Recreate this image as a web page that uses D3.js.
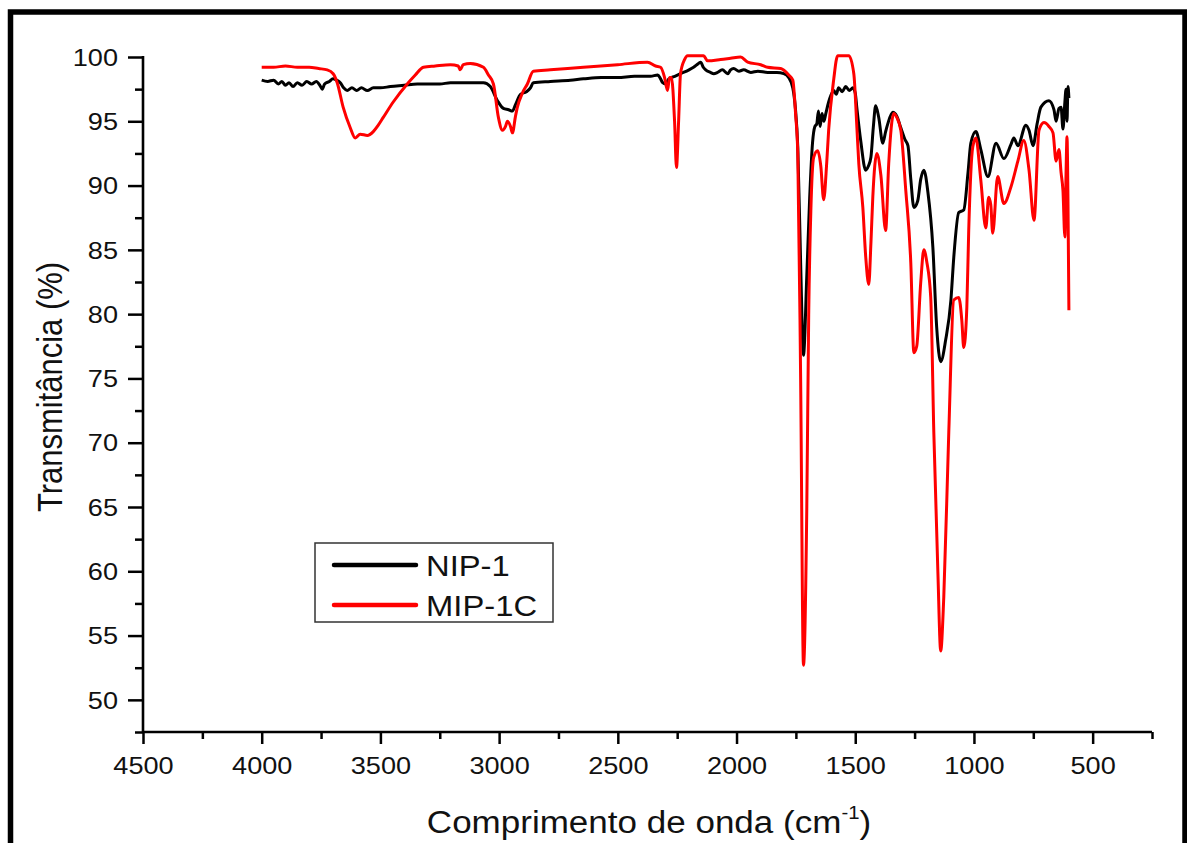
<!DOCTYPE html>
<html>
<head>
<meta charset="utf-8">
<script src="https://cdn.jsdelivr.net/npm/d3@7"></script>
<style>
  html, body { margin: 0; padding: 0; background: #fff; }
  svg { display: block; }
  text { font-family: "Liberation Sans", Arial, sans-serif; fill: #111; }
</style>
</head>
<body>
<svg id="chart" width="1187" height="843"></svg>
<script>
// FTIR spectra: wavenumber (cm-1) and transmittance (%)
const nipWavenumber = [4000,3975,3950,3930,3915,3900,3885,3868,3850,3830,3810,3790,3770,3755,3745,3735,3715,3700,3685,3669,3655,3640,3620,3600,3580,3555,3530,3500,3458,3400,3345,3300,3250,3205,3150,3100,3066,3037,3007,2982,2960,2944,2931,2910,2885,2868,2856,2784,2700,2645,2570,2501,2430,2362,2332,2320,2311,2299,2285,2260,2236,2200,2181,2160,2151,2140,2130,2110,2096,2080,2060,2037,2025,2012,1990,1970,1940,1910,1869,1830,1801,1780,1763,1752,1742,1730,1718,1704,1692,1680,1670,1662,1655,1648,1640,1632,1624,1612,1603,1590,1580,1570,1555,1540,1525,1510,1500,1493,1477,1456,1445,1434,1424,1414,1401,1384,1372,1363,1342,1325,1308,1291,1278,1266,1253,1237,1224,1211,1194,1173,1157,1140,1119,1097,1085,1064,1043,1025,1013,992,971,941,907,874,844,832,815,781,768,751,734,718,684,663,654,642,633,625,617,612,608,604,600];
const nipTransmittance = [98.2,98.1,98.2,97.9,98.1,97.8,98.0,97.7,98.0,97.8,98.1,97.9,98.1,97.8,97.5,97.9,98.1,98.3,98.2,98.0,97.6,97.4,97.6,97.4,97.6,97.4,97.6,97.6,97.7,97.8,97.9,97.9,97.9,98.0,98.0,98.0,98.0,97.7,96.6,96.0,95.9,95.8,96.3,97.1,97.3,97.6,98.0,98.1,98.2,98.3,98.4,98.4,98.5,98.5,98.6,98.3,98.0,97.9,98.3,98.5,98.7,99.0,99.2,99.5,99.6,99.2,99.0,98.8,98.7,98.8,99.0,98.7,99.0,99.1,98.9,99.0,98.8,98.9,98.8,98.8,98.7,98.4,97.6,96.0,93.0,84.0,76.8,83.0,89.0,93.3,94.6,94.8,95.8,94.6,95.6,95.0,95.6,96.5,97.0,97.4,97.1,97.6,97.3,97.7,97.4,97.6,97.2,96.0,93.5,91.2,91.5,92.2,94.5,96.2,95.3,93.3,94.2,94.8,95.7,95.4,94.5,93.6,93.1,90.5,88.3,88.8,90.5,91.2,89.5,85.2,79.0,76.3,78.0,81.1,84.4,87.9,88.1,91.0,93.3,94.2,92.8,90.7,93.3,92.1,93.2,93.7,93.1,94.7,94.3,93.1,94.8,96.1,96.6,95.9,95.0,96.0,96.1,94.4,96.5,97.5,95.0,97.7,96.8];

const mipWavenumber = [4000,3950,3900,3850,3800,3760,3724,3699,3682,3657,3627,3606,3585,3555,3530,3509,3488,3446,3387,3353,3319,3269,3205,3172,3164,3151,3121,3066,3045,3024,3003,2986,2973,2965,2952,2944,2931,2923,2902,2881,2856,2784,2645,2501,2375,2341,2320,2303,2291,2282,2274,2261,2253,2244,2236,2219,2206,2139,2122,2067,2025,1983,1953,1898,1869,1814,1780,1763,1751,1742,1730,1718,1704,1696,1687,1675,1658,1645,1633,1620,1612,1591,1574,1527,1506,1493,1485,1468,1456,1443,1434,1426,1409,1392,1372,1359,1338,1325,1308,1287,1266,1253,1241,1224,1211,1198,1182,1169,1152,1140,1127,1106,1085,1064,1051,1043,1030,1022,1005,992,971,950,938,929,921,900,874,844,815,790,768,747,726,705,684,667,654,642,633,625,617,612,608,604,600];
const mipTransmittance = [99.2,99.2,99.3,99.2,99.2,99.1,99.0,98.7,98.0,96.1,94.5,93.7,94.0,93.9,94.2,94.7,95.3,96.5,97.9,98.6,99.2,99.3,99.4,99.3,99.0,99.4,99.5,99.2,98.6,97.9,95.3,94.3,94.6,95.0,94.6,94.1,95.4,96.1,97.2,97.9,98.9,99.0,99.2,99.4,99.6,99.3,99.2,98.4,97.4,98.4,98.4,95.0,91.4,95.0,98.7,99.8,100.1,100.1,99.7,99.8,99.9,100.0,99.6,99.4,99.2,99.1,98.6,98.2,95.5,92.5,75.0,52.7,65.0,80.0,88.0,92.2,92.7,91.5,88.9,91.8,94.3,98.2,100.1,100.1,98.7,94.5,91.7,88.3,84.5,82.3,85.5,89.1,92.5,90.8,86.5,91.7,95.6,95.3,94.3,89.6,84.0,77.0,77.5,82.5,85.0,84.0,81.3,70.8,60.0,53.8,58.0,70.8,81.1,81.3,79.5,77.4,80.5,86.5,93.0,93.7,90.4,86.7,89.1,88.5,86.3,90.7,88.6,89.9,91.9,93.5,91.2,87.3,94.3,94.9,94.6,94.1,91.9,92.8,91.0,89.6,86.0,91.0,93.8,89.0,80.3];

const seriesNames = ["NIP-1", "MIP-1C"];
const seriesColors = ["#000000", "#ff0000"];

const xMajorTicks = [4500,4000,3500,3000,2500,2000,1500,1000,500];
const xMinorTicks = [4250,3750,3250,2750,2250,1750,1250,750,250];
const yMajorTicks = [50,55,60,65,70,75,80,85,90,95,100];
const yMinorTicks = [47.5,52.5,57.5,62.5,67.5,72.5,77.5,82.5,87.5,92.5,97.5];

const svg = d3.select("#chart");
const plot = { left: 143, right: 1152, top: 57, bottom: 732 };
const stretch = 1.13; // glyphs are drawn slightly wide

// page frame
svg.append("rect")
  .attr("x", 10.5).attr("y", 12)
  .attr("width", 1185 - 10.5).attr("height", 950)
  .attr("fill", "none").attr("stroke", "#000").attr("stroke-width", 5.5);

const x = d3.scaleLinear().domain([4500, 250]).range([plot.left, plot.right]);
const y = d3.scaleLinear().domain([47.5, 100]).range([plot.bottom, plot.top]);

// minor ticks
const xMinor = d3.axisBottom(x).tickValues(xMinorTicks).tickSize(7).tickSizeOuter(0).tickFormat("");
const yMinor = d3.axisLeft(y).tickValues(yMinorTicks).tickSize(8).tickSizeOuter(0).tickFormat("");
svg.append("g").attr("transform", `translate(0,${plot.bottom})`).call(xMinor).call(g => g.select(".domain").remove());
svg.append("g").attr("transform", `translate(${plot.left},0)`).call(yMinor).call(g => g.select(".domain").remove());

// major ticks with labels
const xAxis = d3.axisBottom(x).tickValues(xMajorTicks).tickSize(12).tickSizeOuter(0).tickFormat(d3.format("d"));
const yAxis = d3.axisLeft(y).tickValues(yMajorTicks).tickSize(15).tickSizeOuter(0).tickFormat(d3.format("d"));

const gx = svg.append("g").attr("transform", `translate(0,${plot.bottom})`).call(xAxis);
gx.select(".domain").remove();
gx.selectAll("text")
  .attr("x", 0).attr("y", 25).attr("dy", "0.71em")
  .attr("transform", `scale(${stretch},1)`)
  .style("font-size", "24px");

const gy = svg.append("g").attr("transform", `translate(${plot.left},0)`).call(yAxis);
gy.select(".domain").remove();
gy.selectAll("text")
  .attr("x", -25 / stretch).attr("dy", "0.34em")
  .attr("transform", `scale(${stretch},1)`)
  .style("font-size", "24px");

svg.selectAll(".tick line").attr("stroke", "#000").attr("stroke-width", 2.5);

// axis lines
svg.append("line")
  .attr("x1", plot.left).attr("x2", plot.right)
  .attr("y1", plot.bottom).attr("y2", plot.bottom)
  .attr("stroke", "#000").attr("stroke-width", 2.6);
svg.append("line")
  .attr("x1", plot.left).attr("x2", plot.left)
  .attr("y1", y(100) - 1).attr("y2", plot.bottom)
  .attr("stroke", "#000").attr("stroke-width", 2.6);

// spectra
const line = d3.line()
  .x(d => x(d[0]))
  .y(d => y(d[1]))
  .curve(d3.curveMonotoneX);

const nipData = nipWavenumber.map((w, i) => [w, nipTransmittance[i]]);
const mipData = mipWavenumber.map((w, i) => [w, mipTransmittance[i]]);

svg.append("path").datum(nipData)
  .attr("d", line).attr("fill", "none")
  .attr("stroke", seriesColors[0]).attr("stroke-width", 3)
  .attr("stroke-linejoin", "round");
svg.append("path").datum(mipData)
  .attr("d", line).attr("fill", "none")
  .attr("stroke", seriesColors[1]).attr("stroke-width", 3)
  .attr("stroke-linejoin", "round");

// axis titles
const xTitle = svg.append("text")
  .attr("transform", `translate(649,833) scale(${stretch},1)`)
  .attr("text-anchor", "middle")
  .style("font-size", "31px");
xTitle.append("tspan").text("Comprimento de onda (cm");
xTitle.append("tspan").attr("dy", -14).style("font-size", "18px").text("-1");
xTitle.append("tspan").attr("dy", 14).text(")");

svg.append("text")
  .attr("transform", `translate(62,387) scale(${stretch},1) rotate(-90)`)
  .attr("text-anchor", "middle")
  .style("font-size", "31px")
  .text("Transmitância (%)");

// legend
const legend = svg.append("g");
legend.append("rect")
  .attr("x", 315).attr("y", 543).attr("width", 238).attr("height", 79)
  .attr("fill", "#fff").attr("stroke", "#333").attr("stroke-width", 1.5);
const legendRows = [565, 605];
seriesNames.forEach((name, i) => {
  legend.append("line")
    .attr("x1", 334).attr("x2", 416)
    .attr("y1", legendRows[i]).attr("y2", legendRows[i])
    .attr("stroke", seriesColors[i]).attr("stroke-width", 4.5)
    .attr("stroke-linecap", "round");
  legend.append("text")
    .attr("transform", `translate(426,${legendRows[i] + 11}) scale(${stretch},1)`)
    .style("font-size", "29px")
    .text(name);
});
</script>
</body>
</html>
